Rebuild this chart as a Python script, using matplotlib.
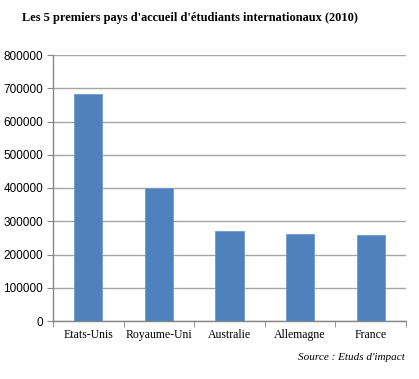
import matplotlib
matplotlib.use("Agg")
import matplotlib.pyplot as plt
import numpy as np

countries = ["Etats-Unis", "Royaume-Uni", "Australie", "Allemagne", "France"]
students = [684000, 400000, 271000, 263000, 259000]
yticks = [0, 100000, 200000, 300000, 400000, 500000, 600000, 700000, 800000]

fig = plt.figure(figsize=(4.19, 3.79), dpi=100)
ax = fig.add_axes([53/419, 1-321/379, (406-53)/419, (321-55)/379])

x = np.arange(len(countries))
ax.bar(x, students, width=0.4, color="#4F81BD", edgecolor="#6F9ACF", linewidth=0.6, zorder=3)
ax.set_xlim(-0.5, len(countries)-0.5)
ax.set_ylim(0, 800000)
ax.set_yticks(yticks)
ax.set_yticklabels([str(v) for v in yticks], fontsize=8.5, family="Liberation Sans")
ax.yaxis.grid(True, color="#A6A6A6", linewidth=1.0, zorder=0)
ax.set_axisbelow(True)

ax.set_xticks(x)
ax.set_xticklabels(countries, fontsize=8.5, family="Liberation Serif")
ax.set_xticks(np.arange(-0.5, len(countries)), minor=True)
ax.tick_params(axis="x", which="major", length=0, pad=6)
ax.tick_params(axis="x", which="minor", length=4, color="#868686", direction="out")
ax.tick_params(axis="y", length=4, color="#868686", direction="out", pad=3)

for s in ["top", "right"]:
    ax.spines[s].set_visible(False)
for s in ["left", "bottom"]:
    ax.spines[s].set_color("#868686")
    ax.spines[s].set_linewidth(1.0)

fig.text(22/419, 1-18/379, "Les 5 premiers pays d'accueil d'étudiants internationaux (2010)",
         fontsize=8.9, fontweight="bold", family="Liberation Serif", va="center", ha="left")
fig.text(405/419, 1-358/379, "Source : Etuds d'impact", fontsize=8, style="italic",
         family="Liberation Serif", va="center", ha="right")

fig.savefig("out.png", dpi=100)
